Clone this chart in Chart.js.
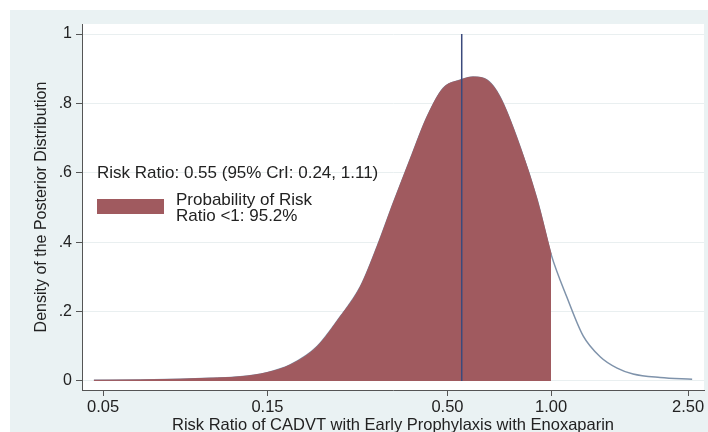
<!DOCTYPE html>
<html>
<head>
<meta charset="utf-8">
<script src="https://cdn.jsdelivr.net/npm/chart.js@4.4.1/dist/chart.umd.min.js"></script>
<style>
  html, body { margin: 0; padding: 0; background: #fff; }
  #wrap { width: 708px; height: 432px; }
</style>
</head>
<body>
<div id="wrap"><canvas id="posteriorChart" width="708" height="432"></canvas></div>
<script>
// posterior density of the risk ratio
const riskRatios = [0.047, 0.064, 0.0836, 0.102, 0.125, 0.1496, 0.1745, 0.209, 0.244, 0.279, 0.312, 0.348, 0.389, 0.436, 0.486, 0.544, 0.593, 0.652, 0.711, 0.813, 0.911, 1.0, 1.113, 1.239, 1.388, 1.555, 1.73, 2.073, 2.568];
const densities = [0.002, 0.003, 0.005, 0.008, 0.012, 0.024, 0.046, 0.099, 0.185, 0.271, 0.386, 0.513, 0.637, 0.761, 0.844, 0.867, 0.876, 0.867, 0.818, 0.674, 0.522, 0.365, 0.24, 0.13, 0.07, 0.037, 0.02, 0.01, 0.005];

const medianRR = 0.55;
const shadeUpTo = 1.0;

const xTickValues = [0.05, 0.15, 0.5, 1, 2.5];
const xTickLabels = ["0.05", "0.15", "0.50", "1.00", "2.50"];
const yTickValues = [0, 0.2, 0.4, 0.6, 0.8, 1];
const yTickLabels = ["0", ".2", ".4", ".6", ".8", "1"];

const statsLabel = "Risk Ratio: 0.55 (95% CrI: 0.24, 1.11)";
const shadeLabel = ["Probability of Risk", "Ratio <1: 95.2%"];

const FONT = "'Liberation Sans', Arial, sans-serif";
const TEXT = "#222";
const RED = "#a05a5f";

const curve = riskRatios.map((rr, i) => ({ x: rr, y: densities[i] }));
const shaded = curve.filter((p) => p.x <= shadeUpTo);

const background = {
  id: "background",
  beforeDraw(chart) {
    const { ctx, chartArea } = chart;
    ctx.save();
    ctx.fillStyle = "#fff";
    ctx.fillRect(0, 0, chart.width, chart.height);
    ctx.fillStyle = "#eaf2f3";
    ctx.fillRect(10, 10, chart.width - 10, chart.height - 10);
    ctx.fillStyle = "#fff";
    ctx.fillRect(chartArea.left, chartArea.top, chartArea.right - chartArea.left, chartArea.bottom - chartArea.top);
    ctx.restore();
  },
};

const keyBox = {
  id: "keyBox",
  afterDraw(chart) {
    const ctx = chart.ctx;
    ctx.save();
    ctx.font = "17px " + FONT;
    ctx.fillStyle = TEXT;
    ctx.textBaseline = "middle";
    ctx.fillText(statsLabel, 97, 173);
    ctx.fillStyle = RED;
    ctx.fillRect(97, 199, 67, 15);
    ctx.fillStyle = TEXT;
    ctx.fillText(shadeLabel[0], 176, 200);
    ctx.fillText(shadeLabel[1], 176, 216);
    ctx.restore();
  },
};

new Chart(document.getElementById("posteriorChart"), {
  type: "line",
  data: {
    datasets: [
      {
        label: "Median",
        data: [{ x: medianRR, y: 0 }, { x: medianRR, y: 1 }],
        borderColor: "#3b4a7c",
        borderWidth: 1.5,
        pointRadius: 0,
        fill: false,
        order: 0,
      },
      {
        label: "Risk Ratio < 1",
        data: shaded,
        borderColor: RED,
        backgroundColor: RED,
        borderWidth: 1,
        pointRadius: 0,
        fill: "origin",
        cubicInterpolationMode: "monotone",
        order: 1,
      },
      {
        label: "Posterior",
        data: curve,
        borderColor: "#7f93ab",
        borderWidth: 1.5,
        pointRadius: 0,
        fill: false,
        cubicInterpolationMode: "monotone",
        order: 2,
      },
    ],
  },
  options: {
    responsive: false,
    animation: false,
    layout: { padding: { left: 30, top: 24, right: 4, bottom: 0 } },
    plugins: {
      legend: { display: false },
      tooltip: { enabled: false },
    },
    scales: {
      x: {
        type: "logarithmic",
        min: 0.0434,
        max: 2.78,
        afterBuildTicks: (scale) => {
          scale.ticks = xTickValues.map((v) => ({ value: v }));
        },
        afterFit: (scale) => {
          scale.height = 42;
        },
        ticks: {
          callback: (value, index) => xTickLabels[index],
          autoSkip: false,
          maxRotation: 0,
          padding: 2,
          color: TEXT,
          font: { family: FONT, size: 16.5 },
        },
        grid: { drawOnChartArea: false, tickColor: "#555", tickLength: 6 },
        border: { color: "#555" },
        title: {
          display: true,
          text: "Risk Ratio of CADVT with Early Prophylaxis with Enoxaparin",
          color: TEXT,
          font: { family: FONT, size: 16.5 },
          padding: { top: 0, bottom: -3 },
        },
      },
      y: {
        type: "linear",
        min: -0.026,
        max: 1.029,
        afterBuildTicks: (scale) => {
          scale.ticks = yTickValues.map((v) => ({ value: v }));
        },
        afterFit: (scale) => {
          scale.width = 52;
        },
        ticks: {
          callback: (value, index) => yTickLabels[index],
          padding: 4,
          color: TEXT,
          font: { family: FONT, size: 16 },
        },
        grid: { color: "#e9eff0", tickColor: "#555", tickLength: 6 },
        border: { color: "#555" },
        title: {
          display: true,
          text: "Density of the Posterior Distribution",
          color: TEXT,
          font: { family: FONT, size: 16 },
          padding: { top: 2, bottom: 0 },
        },
      },
    },
  },
  plugins: [background, keyBox],
});
</script>
</body>
</html>
